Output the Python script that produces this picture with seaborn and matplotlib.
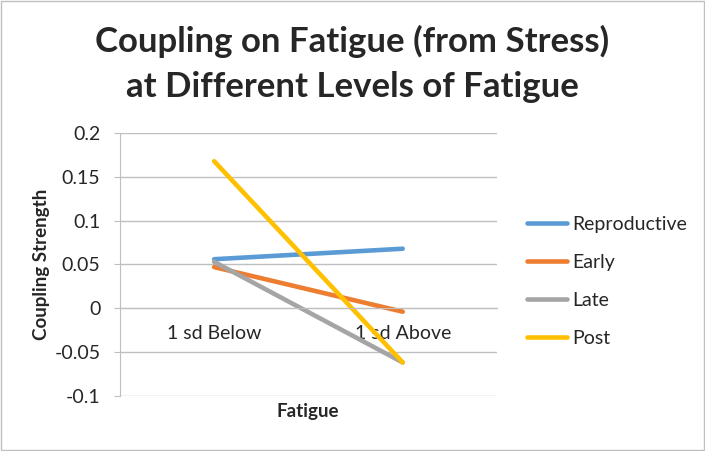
import matplotlib.pyplot as plt
import pandas as pd
import seaborn as sns
from matplotlib.patches import Rectangle

# data
levels = ["1 sd Below", "1 sd Above"]
reproductive = [0.056, 0.068]
early = [0.047, -0.004]
late = [0.053, -0.062]
post = [0.168, -0.062]

series = ["Reproductive", "Early", "Late", "Post"]
colors = ["#5B9BD5", "#ED7D31", "#A5A5A5", "#FFC000"]

df = pd.DataFrame({
    "Fatigue": levels * 4,
    "Coupling": reproductive + early + late + post,
    "Group": [s for s in series for _ in levels],
})

sns.set_style("white")
plt.rcParams["font.family"] = ["Lato", "DejaVu Sans"]

fig = plt.figure(figsize=(7.05, 4.51), dpi=100)
ax = fig.add_axes([0.170, 0.1226, 0.535, 0.582])

sns.lineplot(data=df, x="Fatigue", y="Coupling", hue="Group", palette=colors,
             linewidth=3.3, ax=ax, sort=False, legend=True)

ax.set_xlim(-0.5, 1.5)
ax.set_ylim(-0.1, 0.2)
ax.set_yticks([-0.1, -0.05, 0, 0.05, 0.1, 0.15, 0.2])
ax.set_yticklabels(["-0.1", "-0.05", "0", "0.05", "0.1", "0.15", "0.2"])
ax.grid(axis="y", color="#BFBFBF", linewidth=1)
ax.set_axisbelow(True)

for s in ["top", "right"]:
    ax.spines[s].set_visible(False)
ax.spines["left"].set_color("#BFBFBF")
ax.spines["bottom"].set_position(("data", 0))
ax.spines["bottom"].set_color("#BFBFBF")
ax.tick_params(axis="y", length=4, color="#BFBFBF", labelsize=14, pad=10, left=True)
ax.tick_params(axis="x", length=0, labelsize=14, pad=12)

ax.set_xlabel("")
ax.set_ylabel("Coupling Strength", fontsize=13.5, fontweight="bold")
ax.yaxis.set_label_coords(-0.185, 0.5)
fig.text(0.436, 0.075, "Fatigue", ha="center", va="baseline", fontsize=13.5, fontweight="bold")

fig.text(0.5, 0.885, "Coupling on Fatigue (from Stress)", ha="center", va="baseline",
         fontsize=25, fontweight="bold")
fig.text(0.5, 0.785, "at Different Levels of Fatigue", ha="center", va="baseline",
         fontsize=25, fontweight="bold")

leg = ax.legend(loc="center left", bbox_to_anchor=(1.033, 0.435), frameon=False,
                fontsize=14, handlelength=2.05, handletextpad=0.3, labelspacing=1.08)
for h in leg.get_lines():
    h.set_linewidth(3.3)

fig.patches.append(Rectangle((0.002, 0.002), 0.996, 0.996, transform=fig.transFigure,
                             fill=False, edgecolor="#BFBFBF", linewidth=1))

fig.savefig("out.png", dpi=100)
